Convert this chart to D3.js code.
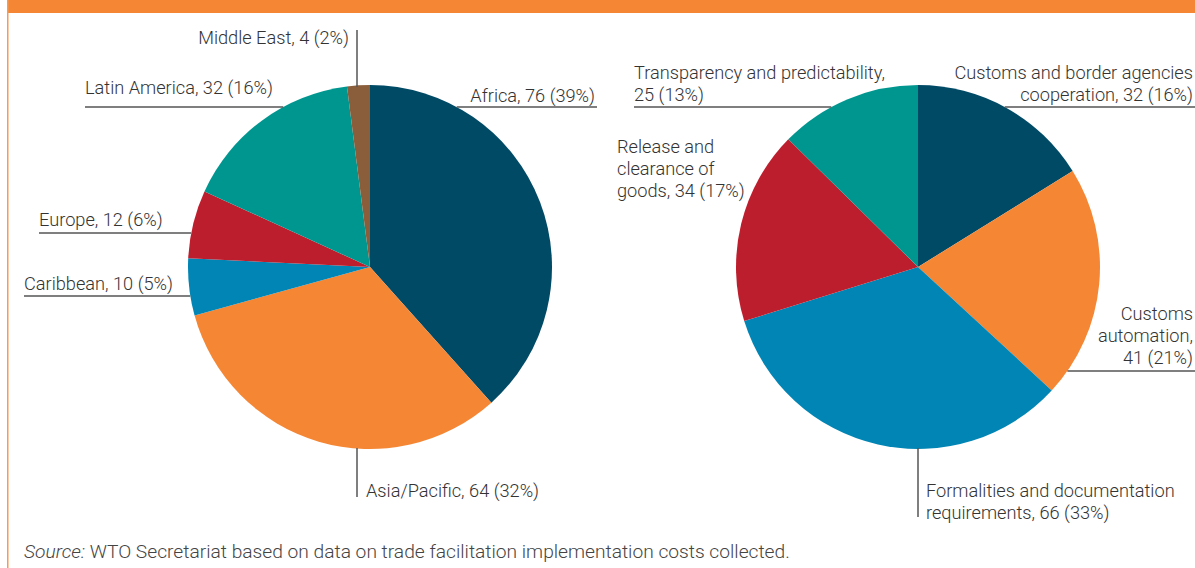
<!DOCTYPE html>
<html>
<head>
<meta charset="utf-8">
<script src="https://cdn.jsdelivr.net/npm/d3@7"></script>
<style>
    body { margin: 0; background: #fff; }
    svg { display: block; font-family: Roboto, "Liberation Sans", sans-serif; }
</style>
</head>
<body>
<svg id="Target" width="1195" height="568"></svg>
<script>

// regions chart
const regions = ["Africa", "Asia/Pacific", "Caribbean", "Europe", "Latin America", "Middle East"];
const regionValues = [76, 64, 10, 12, 32, 4];
const regionShares = [39, 32, 5, 6, 16, 2];

// categories chart
const categories = [
    "Customs and border agencies cooperation",
    "Customs automation",
    "Formalities and documentation requirements",
    "Release and clearance of goods",
    "Transparency and predictability"
];
const categoryValues = [32, 41, 66, 34, 25];
const categoryShares = [16, 21, 33, 17, 13];

const sliceColors = {
    "Africa": "#004a66",
    "Asia/Pacific": "#f58634",
    "Caribbean": "#0085b4",
    "Europe": "#bd1e2d",
    "Latin America": "#009690",
    "Middle East": "#8a5d3b",
    "Customs and border agencies cooperation": "#004a66",
    "Customs automation": "#f58634",
    "Formalities and documentation requirements": "#0085b4",
    "Release and clearance of goods": "#bd1e2d",
    "Transparency and predictability": "#009690"
};

const svg = d3.select("#Target");
const lineColor = "#555";
const textColor = "#333";
const fontSize = 18.2;

// frame: orange top band + thin left rule
svg.append("rect")
    .attr("x", 7).attr("y", 0)
    .attr("width", 1188).attr("height", 13)
    .attr("fill", "#f58634");

svg.append("rect")
    .attr("x", 7).attr("y", 0)
    .attr("width", 1.5).attr("height", 568)
    .attr("fill", "#f79a55");

const radius = 182;

const pie = d3.pie()
    .sort(null)
    .value(d => d.value);

const arc = d3.arc()
    .innerRadius(0)
    .outerRadius(radius);

const drawPie = (cx, cy, names, values, shares) => {

    const rows = names.map((name, i) => ({ name, value: values[i], share: shares[i] }));

    const g = svg.append("g")
        .attr("transform", `translate(${cx},${cy})`);

    g.selectAll("path")
        .data(pie(rows))
        .enter()
        .append("path")
        .attr("d", arc)
        .attr("fill", d => sliceColors[d.data.name]);

    return rows;
};

// x where a horizontal line at y meets the circle edge
const edgeX = (cx, cy, y, side) => {
    const dy = y - cy;
    const dx = Math.sqrt(Math.max(0, radius * radius - dy * dy));
    return side < 0 ? cx - dx : cx + dx;
};

const label = (lines, x, y, anchor) => {
    const t = svg.append("text")
        .attr("x", x)
        .attr("y", y)
        .attr("text-anchor", anchor)
        .attr("fill", textColor)
        .attr("font-size", fontSize)
        .attr("font-weight", 300);

    lines.forEach((line, i) => {
        t.append("tspan")
            .attr("x", x)
            .attr("dy", i === 0 ? 0 : 22)
            .text(line);
    });
};

const rule = (x1, y1, x2, y2) => {
    svg.append("line")
        .attr("x1", x1).attr("y1", y1)
        .attr("x2", x2).attr("y2", y2)
        .attr("stroke", lineColor)
        .attr("stroke-width", 1.5);
};

// left pie
const lcx = 370, lcy = 267;
const left = drawPie(lcx, lcy, regions, regionValues, regionShares);
const lt = d => `${d.name}, ${d.value} (${d.share}%)`;

label([lt(left[5])], 349, 44, "end");
rule(357, 30, 357, lcy - radius + 2);

label([lt(left[4])], 85, 94, "start");
rule(85, 107, edgeX(lcx, lcy, 107, -1), 107);

label([lt(left[0])], 595, 102, "end");
rule(edgeX(lcx, lcy, 107, 1), 107, 597, 107);

label([lt(left[3])], 39, 226, "start");
rule(39, 233, edgeX(lcx, lcy, 233, -1), 233);

label([lt(left[2])], 24, 290, "start");
rule(24, 296, edgeX(lcx, lcy, 296, -1), 296);

rule(357, lcy + radius - 1, 357, 497);
label([lt(left[1])], 366, 497, "start");

// right pie
const rcx = 918, rcy = 267;
const right = drawPie(rcx, rcy, categories, categoryValues, categoryShares);

label(["Transparency and predictability,", `${right[4].value} (${right[4].share}%)`], 634, 79, "start");
rule(634, 107, edgeX(rcx, rcy, 107, -1), 107);

label(["Customs and border agencies", `cooperation, ${right[0].value} (${right[0].share}%)`], 1193, 79, "end");
rule(edgeX(rcx, rcy, 107, 1), 107, 1195, 107);

label(["Release and", "clearance of", `goods, ${right[3].value} (${right[3].share}%)`], 617, 153, "start");

label(["Customs", "automation,", `${right[1].value} (${right[1].share}%)`], 1193, 320, "end");
rule(edgeX(rcx, rcy, 371, 1), 371, 1195, 371);

rule(918, rcy + radius - 1, 918, 517);
label(["Formalities and documentation", `requirements, ${right[2].value} (${right[2].share}%)`], 926, 497, "start");

// source note
const src = svg.append("text")
    .attr("x", 24)
    .attr("y", 558)
    .attr("fill", "#444")
    .attr("font-size", 19.2)
    .attr("font-weight", 300);

src.append("tspan")
    .attr("font-style", "italic")
    .text("Source:");

src.append("tspan")
    .text(" WTO Secretariat based on data on trade facilitation implementation costs collected.");

</script>
</body>
</html>
